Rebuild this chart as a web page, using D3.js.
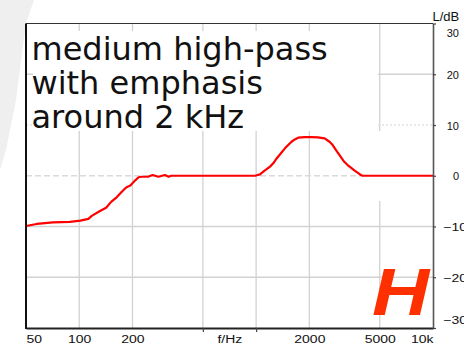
<!DOCTYPE html>
<html>
<head>
<meta charset="utf-8">
<script src="https://cdn.jsdelivr.net/npm/d3@7"></script>
<style>
  html, body { margin: 0; padding: 0; background: #fff; }
  svg { display: block; }
</style>
</head>
<body>
<div id="chart"></div>
<script>
// Frequency response of the filter (level in dB over frequency in Hz)
const freqHz = [50, 57.5, 71, 88.5, 101.5, 112.6, 117.7, 131, 141.8, 152, 162.7, 174, 184, 194.5,
  208, 216.6, 225, 245, 260, 280, 305, 320, 331, 600, 985, 1052, 1098, 1147, 1198, 1250, 1306,
  1363, 1455, 1518, 1585, 1655, 1727, 1882, 2052, 2236, 2440, 2600, 2710, 2830, 2955, 3150,
  3290, 3435, 3590, 3745, 3910, 3995, 6000, 10000];
const levelDb = [-9.9, -9.5, -9.2, -9.1, -8.85, -8.5, -7.9, -6.95, -6.3, -5.1, -4.25, -3.15, -2.3, -1.9,
  -0.85, -0.3, -0.2, -0.2, 0.15, -0.2, 0.15, -0.2, 0, 0, 0, 0.27, 0.8, 1.3, 1.8, 2.45, 3.4,
  4.2, 5.4, 6.05, 6.7, 7.15, 7.5, 7.6, 7.6, 7.55, 7.35, 6.7, 6.05, 5.05, 4.1, 2.75,
  2.1, 1.6, 1.05, 0.6, 0.15, 0, 0, 0];

// Axis ticks and labels
const freqTicks = [50, 100, 200, 500, 1000, 2000, 5000, 10000];
const freqTickLabels = ["50", "100", "200", "", "", "2000", "5000", "10k"];
const gridFreqs = [100, 200, 500, 1000, 2000, 5000];
const levelTicks = [30, 20, 10, 0, -10, -20, -30];
const gridLevels = [20, 10, 0, -10, -20];
const titleLines = ["medium high-pass", "with emphasis", "around 2 kHz"];
const xUnit = "f/Hz";
const yUnit = "L/dB";
const badge = "H";

const W = 464, H = 343;
const svg = d3.select("#chart").append("svg").attr("width", W).attr("height", H);

const x = d3.scaleLog().domain([50, 10000]).range([26, 433]);
const y = d3.scaleLinear().domain([-30, 30]).range([328, 23.5]);

// faint grey wedge along the left edge
svg.append("path")
  .attr("d", "M0,0 L34,0 L26,23 L16,100 L6,150 L0,170 Z")
  .attr("fill", "#efefef");

// plot background
svg.append("rect")
  .attr("x", x(50)).attr("y", y(30))
  .attr("width", x(10000) - x(50)).attr("height", y(-30) - y(30))
  .attr("fill", "#fff");

// grid
const grid = svg.append("g");
grid.selectAll("line.v").data(gridFreqs).join("line")
  .attr("x1", d => x(d)).attr("x2", d => x(d))
  .attr("y1", y(30)).attr("y2", y(-30))
  .attr("stroke", "#d2d2d2").attr("stroke-width", 1.3);
grid.selectAll("line.h").data(gridLevels).join("line")
  .attr("x1", x(50)).attr("x2", x(10000))
  .attr("y1", d => y(d)).attr("y2", d => y(d))
  .attr("stroke", d => d === 10 ? "#e2e2e2" : (d === 0 ? "#dadada" : "#d2d2d2"))
  .attr("stroke-width", 1.3)
  .attr("stroke-dasharray", d => d === 0 ? "6,3" : (d === 10 ? "2,2" : null));

// white panels behind the caption
svg.append("rect").attr("x", 33).attr("y", 31).attr("width", 345).attr("height", 100).attr("fill", "#fff");
svg.append("rect").attr("x", 366).attr("y", 131).attr("width", 65).attr("height", 70).attr("fill", "#fff");

// response curve
const line = d3.line().x(d => x(d[0])).y(d => y(d[1]));
svg.append("path")
  .datum(d3.zip(freqHz, levelDb))
  .attr("d", line)
  .attr("fill", "none")
  .attr("stroke", "#ff0000")
  .attr("stroke-width", 2.2)
  .attr("stroke-linejoin", "round");

// caption
svg.append("g").selectAll("text").data(titleLines).join("text")
  .attr("x", 31.5)
  .attr("y", (d, i) => 60 + i * 34)
  .attr("font-family", "DejaVu Sans")
  .attr("font-size", 32)
  .attr("fill", "#111")
  .text(d => d);

// badge letter
svg.append("text")
  .attr("x", 0).attr("y", 0)
  .attr("transform", "translate(372,315) scale(1.2,1)")
  .attr("font-family", "Liberation Sans")
  .attr("font-weight", "bold").attr("font-style", "italic")
  .attr("font-size", 66)
  .attr("fill", "#ff3000")
  .text(badge);

// frame
svg.append("line").attr("x1", x(50)).attr("x2", x(10000)).attr("y1", y(30)).attr("y2", y(30))
  .attr("stroke", "#333").attr("stroke-width", 1);

// bottom axis
const xAxis = d3.axisBottom(x)
  .tickValues(freqTicks)
  .tickFormat((d, i) => freqTickLabels[i])
  .tickSizeInner(4).tickSizeOuter(0).tickPadding(0);
const gx = svg.append("g").attr("transform", `translate(0,${y(-30)})`).call(xAxis);
gx.select(".domain").attr("stroke", "#222").attr("stroke-width", 2);
gx.selectAll(".tick line")
  .attr("stroke", "#444")
  .attr("stroke-width", 1.2)
  .attr("opacity", (d, i) => freqTickLabels[i] === "" ? 1 : 0);
gx.selectAll(".tick text")
  .attr("font-family", "Liberation Sans")
  .attr("font-size", 11)
  .attr("fill", "#111")
  .attr("y", 0).attr("dy", 0)
  .attr("text-anchor", (d, i) => i === 0 ? "start" : (i === freqTicks.length - 1 ? "end" : "middle"))
  .attr("transform", "translate(0,14.5) scale(1.27,1)");
gx.append("text")
  .attr("x", x(710)).attr("y", 0)
  .attr("transform", `translate(${x(710) * (1 - 1.27)},14.5) scale(1.27,1)`)
  .attr("text-anchor", "middle")
  .attr("font-family", "Liberation Sans").attr("font-size", 11).attr("fill", "#111")
  .text(xUnit);

// left axis line
svg.append("line").attr("x1", x(50)).attr("x2", x(50)).attr("y1", y(30)).attr("y2", y(-30) + 1)
  .attr("stroke", "#111").attr("stroke-width", 2);

// right axis
const yAxis = d3.axisRight(y)
  .tickValues(levelTicks)
  .tickFormat(d3.format("d"))
  .tickSizeInner(3).tickSizeOuter(0).tickPadding(0);
const gy = svg.append("g").attr("transform", `translate(${x(10000)},0)`).call(yAxis);
gy.select(".domain").attr("stroke", "#555").attr("stroke-width", 1.6);
gy.selectAll(".tick line").attr("stroke", "#444").attr("stroke-width", 1.2);
gy.selectAll(".tick text")
  .attr("font-family", "Liberation Sans")
  .attr("font-size", 11)
  .attr("fill", "#111")
  .attr("dy", 0)
  .attr("y", 0)
  .attr("x", 0)
  .attr("text-anchor", d => d < 0 ? "start" : "end")
  .attr("transform", d => {
    const shift = d === 30 ? 12.5 : (d === -30 ? -4.7 : 4);
    return d < 0 ? `translate(10.3,${shift}) scale(1.27,1)` : `translate(26,${shift})`;
  });
svg.append("text")
  .attr("x", 432.5).attr("y", 20.5)
  .attr("font-family", "Liberation Sans").attr("font-size", 13).attr("fill", "#111")
  .text(yUnit);
</script>
</body>
</html>
